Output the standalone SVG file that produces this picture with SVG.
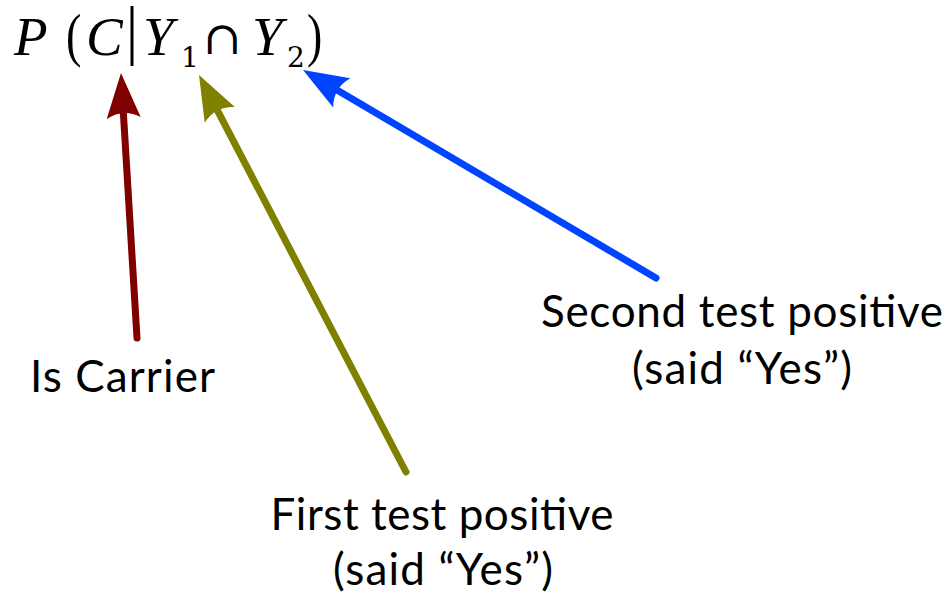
<svg xmlns="http://www.w3.org/2000/svg" width="952" height="601" viewBox="0 0 952 601">
<style>
.lbl{font-family:Lato,"Open Sans",sans-serif;font-size:44px;fill:#000}
.mi{font-family:"Liberation Serif","DejaVu Serif",serif;font-style:italic;font-size:55px;fill:#000}
.mr{font-family:"Liberation Serif","DejaVu Serif",serif;font-size:46px;fill:#000}
.sub{font-family:"DejaVu Serif",serif;font-size:28px;fill:#000}
.cap{font-family:"DejaVu Serif",serif;font-size:46px;fill:#000}
.conn{fill:none;stroke-width:7;stroke-linecap:round}
</style>
<defs>
<marker id="ar" markerUnits="userSpaceOnUse" markerWidth="50" markerHeight="40" refX="8" refY="20" orient="auto" overflow="visible"><path d="M45,20 L0,3 Q10,20 0,37 Z" fill="#800000"/></marker>
<marker id="ao" markerUnits="userSpaceOnUse" markerWidth="50" markerHeight="40" refX="8" refY="20" orient="auto" overflow="visible"><path d="M45,20 L0,3 Q10,20 0,37 Z" fill="#808000"/></marker>
<marker id="ab" markerUnits="userSpaceOnUse" markerWidth="50" markerHeight="40" refX="8" refY="20" orient="auto" overflow="visible"><path d="M45,20 L0,3 Q10,20 0,37 Z" fill="#0044ff"/></marker>
</defs>
<g id="formula">
<text class="mi" x="14" y="55">P</text>
<text class="mr" transform="translate(66,55) scale(1,1.3)">(</text>
<text class="mi" x="86" y="55">C</text>
<rect x="130.5" y="6" width="3" height="60" fill="#000"/>
<text class="mi" x="143" y="55">Y</text>
<text class="sub" x="181" y="67">1</text>
<text class="cap" x="203" y="54">∩</text>
<text class="mi" x="252" y="55">Y</text>
<text class="sub" x="287" y="67">2</text>
<text class="mr" transform="translate(307,55) scale(1,1.3)">)</text>
</g>
<g id="connectors">
<line class="conn" stroke="#800000" x1="137" y1="338" x2="123.2" y2="110" marker-end="url(#ar)"/>
<line class="conn" stroke="#808000" x1="406" y1="472" x2="216.1" y2="107.8" marker-end="url(#ao)"/>
<line class="conn" stroke="#0044ff" x1="656" y1="278" x2="334.9" y2="88.8" marker-end="url(#ab)"/>
</g>
<g id="is-carrier"><text class="lbl" x="30" y="392" textLength="185" lengthAdjust="spacing">Is Carrier</text></g>
<g id="second-test"><text class="lbl" text-anchor="middle" x="742" y="327" textLength="402" lengthAdjust="spacing">Second test positive</text><text class="lbl" text-anchor="middle" x="742" y="384" textLength="220" lengthAdjust="spacing">(said “Yes”)</text></g>
<g id="first-test"><text class="lbl" text-anchor="middle" x="442" y="530" textLength="343" lengthAdjust="spacing">First test positive</text><text class="lbl" text-anchor="middle" x="443" y="585" textLength="220" lengthAdjust="spacing">(said “Yes”)</text></g>
</svg>
